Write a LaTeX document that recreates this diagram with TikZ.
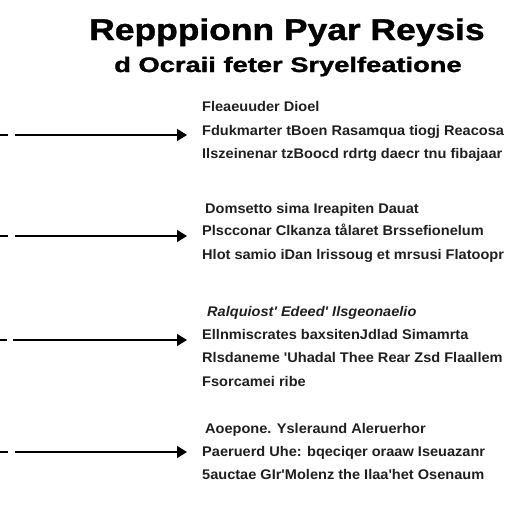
\documentclass[tikz,border=0pt]{standalone}
\usepackage{fontspec}
\setmainfont{Liberation Sans}
\newfontfamily\headfont{Liberation Sans}[FakeBold=1.2]
\newfontfamily\entryfont{Liberation Sans}[FakeStretch=1.04]
\usetikzlibrary{arrows.meta,positioning}
\tikzset{
  heading/.style={font=\headfont\bfseries\fontsize{30}{30}\selectfont, inner sep=0pt, anchor=base},
  subheading/.style={font=\headfont\bfseries\fontsize{21}{21}\selectfont, inner sep=0pt, anchor=base},
  entry/.style={font=\entryfont\bfseries\fontsize{14}{14}\selectfont, text=black!88, inner sep=0pt, anchor=base west},
  pointer/.style={-{Triangle[length=10pt,width=12pt]}, line width=1.4pt, dash pattern=on 8pt off 7pt on 400pt}
}
\begin{document}
\begin{tikzpicture}[x=1pt,y=-1pt]
   \useasboundingbox (0,0) rectangle (512,512);
   \node[heading] (title) at (287,40) {\scalebox{1.18}[1]{Repppionn Pyar Reysis}};
   \node[subheading] (subtitle) at (288,72) {\scalebox{1.3}[1]{d Ocraii feter Sryelfeatione}};
   \node[entry] (b1a) at (202,111) {Fleaeuuder Dioel};
   \node[entry] (b1b) at (202,135) {Fdukmarter tBoen Rasamqua tiogj Reacosa};
   \node[entry] (b1c) at (202,158) {Ilszeinenar tzBoocd rdrtg daecr tnu fibajaar};
   \node[entry] (b2a) at (205,213) {Domsetto sima Ireapiten Dauat};
   \node[entry] (b2b) at (202,235) {Plscconar Clkanza tålaret Brssefionelum};
   \node[entry] (b2c) at (202,259) {Hlot samio iDan lrissoug et mrsusi Flatoopr};
   \node[entry] (b3a) at (207,316) {\itshape Ralquiost' Edeed' Ilsgeonaelio};
   \node[entry] (b3b) at (202,339) {Ellnmiscrates baxsitenJdlad Simamrta};
   \node[entry] (b3c) at (202,362) {Rlsdaneme 'Uhadal Thee Rear Zsd Flaallem};
   \node[entry] (b3d) at (202,386) {Fsorcamei ribe};
   \node[entry] (b4a) at (205,433) {Aoepone. Ysleraund Aleruerhor};
   \node[entry] (b4b) at (202,456) {Paeruerd Uhe: bqeciqer oraaw Iseuazanr};
   \node[entry] (b4c) at (202,479) {5auctae GIr'Molenz the Ilaa'het Osenaum};
   \coordinate (s1) at (0,135);
   \coordinate (s2) at (0,236);
   \coordinate (s3) at (0,340);
   \coordinate (s4) at (0,452);
   \draw[pointer] (s1) -- ([xshift=-15pt]s1 -| b1b.west);
   \draw[pointer] (s2) -- ([xshift=-15pt]s2 -| b2b.west);
   \draw[pointer,dash pattern=on 7pt off 6pt on 400pt] (s3) -- ([xshift=-15pt]s3 -| b3b.west);
   \draw[pointer] (s4) -- ([xshift=-15pt]s4 -| b4b.west);
\end{tikzpicture}
\end{document}
